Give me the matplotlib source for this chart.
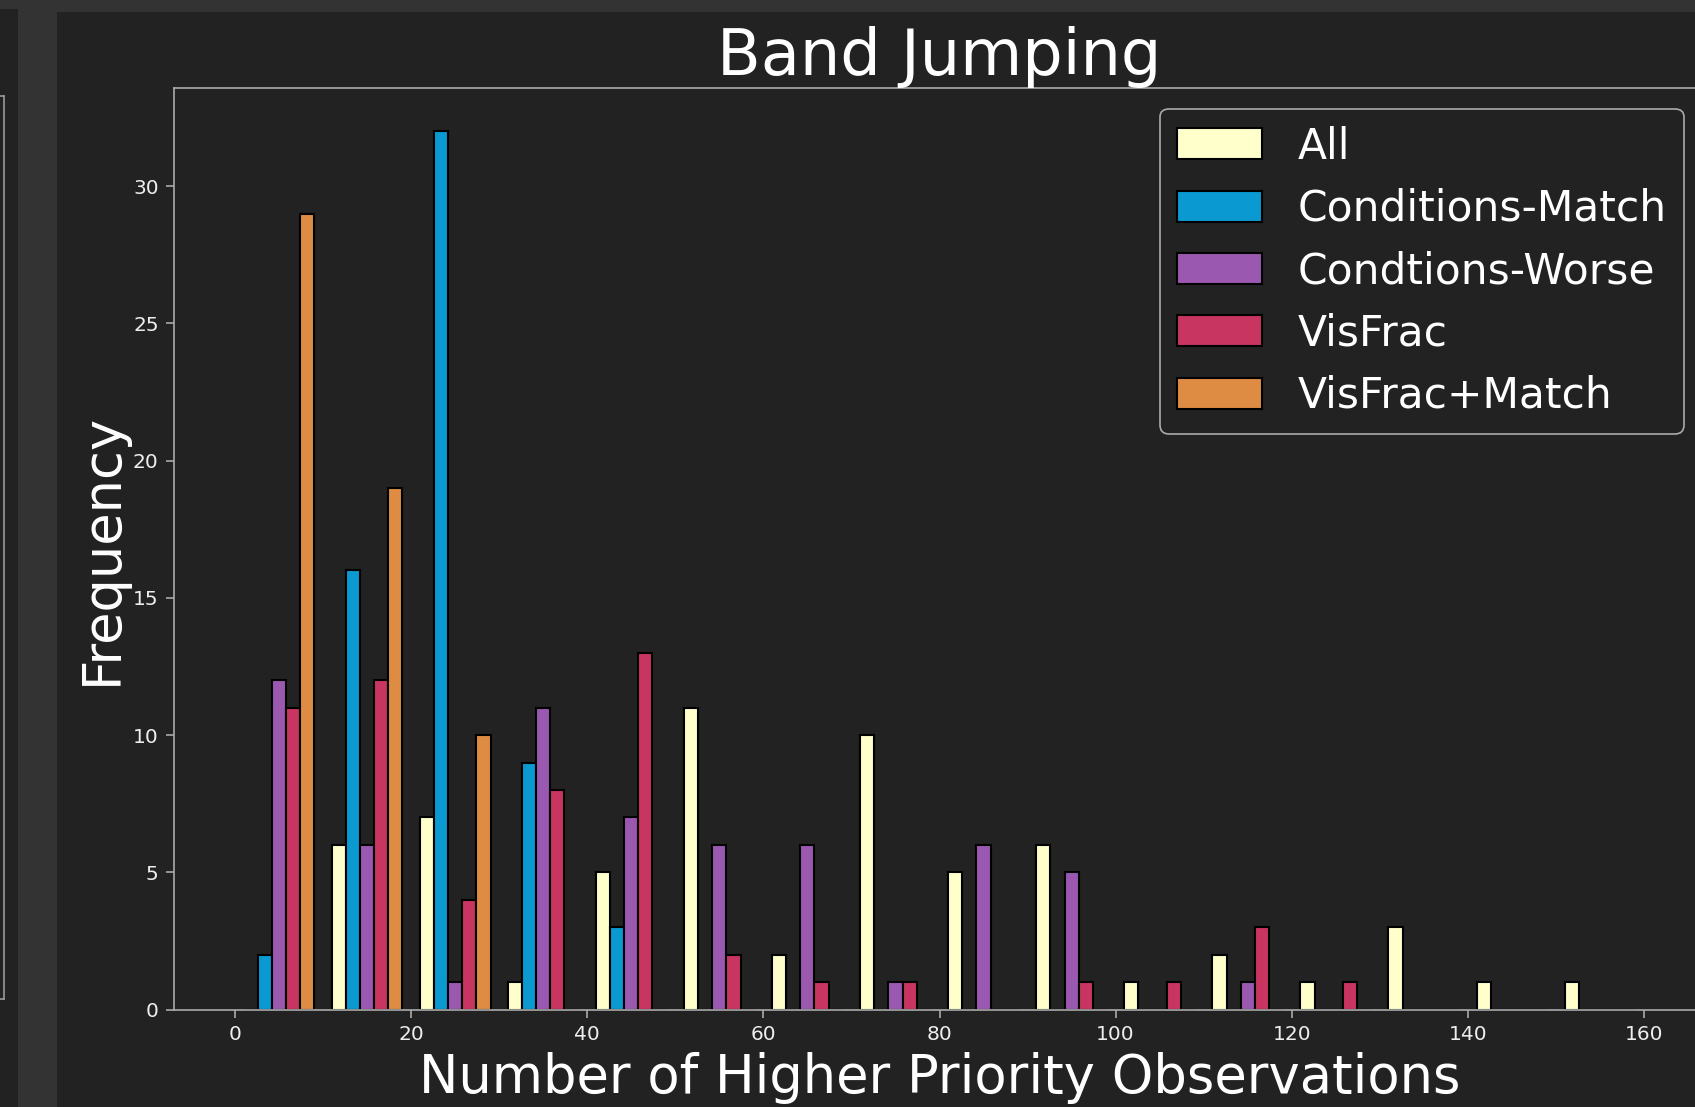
import numpy as np
import matplotlib
matplotlib.use("Agg")
import matplotlib.pyplot as plt
from matplotlib.patches import Rectangle
from matplotlib.lines import Line2D

# Histogram counts per 10-wide bin (0-10, 10-20, ..., 150-160)
bin_edges = list(range(0, 161, 10))
labels = ["All", "Conditions-Match", "Condtions-Worse", "VisFrac", "VisFrac+Match"]
colors = ["#ffffcc", "#0a99d1", "#9b58b0", "#c83560", "#de8b43"]

all_counts = [0, 6, 7, 1, 5, 11, 2, 10, 5, 6, 1, 2, 1, 3, 1, 1]
match_counts = [2, 16, 32, 9, 3, 0, 0, 0, 0, 0, 0, 0, 0, 0, 0, 0]
worse_counts = [12, 6, 1, 11, 7, 6, 6, 1, 6, 5, 0, 1, 0, 0, 0, 0]
visfrac_counts = [11, 12, 4, 8, 13, 2, 1, 1, 0, 1, 1, 3, 1, 0, 0, 0]
visfrac_match_counts = [29, 19, 10, 0, 0, 0, 0, 0, 0, 0, 0, 0, 0, 0, 0, 0]

BG = "#222222"
PANEL = "#333333"
FG = "#ffffff"
SPINE = "#aaaaaa"

W, H = 1695, 1107
fig = plt.figure(figsize=(W / 100, H / 100), dpi=100, facecolor=PANEL)


# notebook frame around the figure (pixel coords measured from top-left)
def px_rect(x0, y0, x1, y1, color):
    fig.patches.append(Rectangle((x0 / W, 1 - y1 / H), (x1 - x0) / W, (y1 - y0) / H,
                                 transform=fig.transFigure, facecolor=color,
                                 edgecolor="none", zorder=-10))


px_rect(0, 9, 18, H, BG)
px_rect(57, 12, W, H, BG)
# edge of the neighbouring (cut off) output box
for xs, ys in [([4, 4], [96, 999]), ([0, 4], [96, 96]), ([0, 4], [999, 999])]:
    fig.lines.append(Line2D([x / W for x in xs], [1 - y / H for y in ys],
                            transform=fig.transFigure, color="#999999", lw=1.2, zorder=-5))

ax = fig.add_axes([174 / W, (H - 1009.5) / H, (1705 - 174) / W, (1009.5 - 87.5) / H])
ax.set_facecolor(BG)

centers = [e + 5 for e in bin_edges[:-1]]
series = [all_counts, match_counts, worse_counts, visfrac_counts, visfrac_match_counts]
ax.hist([centers] * len(series), bins=bin_edges, weights=series, color=colors,
        label=labels, edgecolor="black", linewidth=1.5)

ax.set_xlim(-6.95, 166.95)
ax.set_ylim(0, 33.6)
ax.set_xticks(range(0, 161, 20))
ax.set_yticks(range(0, 31, 5))

for s in ax.spines.values():
    s.set_color(SPINE)
    s.set_linewidth(1.2)
ax.tick_params(colors=SPINE, labelcolor="#eeeeee", labelsize=14.5, length=6, width=1.2, pad=5)

ax.set_title("Band Jumping", fontsize=46, color=FG, pad=8)
ax.set_xlabel("Number of Higher Priority Observations", fontsize=38, color=FG, labelpad=6)
ax.set_ylabel("Frequency", fontsize=38, color=FG)

leg = ax.legend(loc="upper right", fontsize=30.5, facecolor=BG, edgecolor=SPINE,
                framealpha=1, labelcolor=FG, labelspacing=0.48, handletextpad=0.85,
                handleheight=0.75)
leg.get_frame().set_linewidth(1.2)

fig.savefig("out.png", dpi=100, facecolor=fig.get_facecolor())
